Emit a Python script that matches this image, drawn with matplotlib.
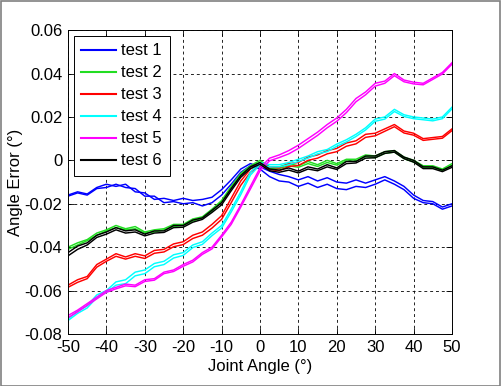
import numpy as np
import matplotlib.pyplot as plt
from matplotlib.patches import Rectangle

plt.rcParams['font.family'] = ['Liberation Sans', 'DejaVu Sans']
plt.rcParams['axes.unicode_minus'] = False

# joint angle sweep, degrees
angle = np.arange(-50, 50.1, 2.5)

# each test has a forward and a backward sweep (hysteresis)
t1_fwd = [-0.0160, -0.0145, -0.0155, -0.0125, -0.0110, -0.0120, -0.0110, -0.0145, -0.0150, -0.0180,
          -0.0175, -0.0185, -0.0175, -0.0185, -0.0180, -0.0170, -0.0135, -0.0090, -0.0040, -0.0015,
          -0.0030, -0.0050, -0.0065, -0.0075, -0.0090, -0.0075, -0.0095, -0.0080, -0.0100, -0.0105,
          -0.0090, -0.0105, -0.0090, -0.0075, -0.0095, -0.0120, -0.0160, -0.0185, -0.0190, -0.0215, -0.0200]
t1_bwd = [-0.0165, -0.0150, -0.0160, -0.0130, -0.0125, -0.0110, -0.0125, -0.0130, -0.0165, -0.0165,
          -0.0195, -0.0190, -0.0200, -0.0195, -0.0210, -0.0195, -0.0160, -0.0110, -0.0055, -0.0025,
          -0.0040, -0.0075, -0.0095, -0.0100, -0.0120, -0.0105, -0.0125, -0.0110, -0.0130, -0.0135,
          -0.0120, -0.0125, -0.0110, -0.0090, -0.0110, -0.0135, -0.0175, -0.0195, -0.0200, -0.0225, -0.0210]

t2_fwd = [-0.0400, -0.0380, -0.0365, -0.0335, -0.0320, -0.0300, -0.0315, -0.0305, -0.0330, -0.0320,
          -0.0315, -0.0295, -0.0295, -0.0270, -0.0260, -0.0225, -0.0185, -0.0120, -0.0060, -0.0025,
          0.0000, -0.0030, -0.0030, -0.0015, -0.0025, -0.0005, -0.0020, 0.0000, -0.0015, 0.0005,
          0.0005, 0.0025, 0.0020, 0.0040, 0.0045, 0.0015, 0.0000, -0.0025, -0.0025, -0.0040, -0.0015]
t2_bwd = [-0.0410, -0.0390, -0.0370, -0.0345, -0.0325, -0.0310, -0.0320, -0.0315, -0.0335, -0.0330,
          -0.0320, -0.0305, -0.0300, -0.0280, -0.0265, -0.0235, -0.0190, -0.0130, -0.0065, -0.0030,
          -0.0008, -0.0038, -0.0038, -0.0025, -0.0032, -0.0015, -0.0028, -0.0010, -0.0022, -0.0003,
          -0.0003, 0.0017, 0.0012, 0.0032, 0.0038, 0.0008, -0.0008, -0.0032, -0.0032, -0.0048, -0.0022]

t3_fwd = [-0.0575, -0.0550, -0.0535, -0.0480, -0.0455, -0.0430, -0.0445, -0.0430, -0.0440, -0.0415,
          -0.0410, -0.0385, -0.0375, -0.0345, -0.0330, -0.0295, -0.0255, -0.0175, -0.0095, -0.0040,
          -0.0015, -0.0030, -0.0035, -0.0015, -0.0010, 0.0015, 0.0025, 0.0045, 0.0055, 0.0080,
          0.0090, 0.0120, 0.0125, 0.0145, 0.0165, 0.0135, 0.0125, 0.0100, 0.0105, 0.0110, 0.0145]
t3_bwd = [-0.0585, -0.0562, -0.0545, -0.0492, -0.0465, -0.0442, -0.0455, -0.0442, -0.0452, -0.0428,
          -0.0422, -0.0398, -0.0388, -0.0360, -0.0345, -0.0312, -0.0272, -0.0195, -0.0115, -0.0055,
          -0.0025, -0.0042, -0.0048, -0.0028, -0.0024, 0.0000, 0.0010, 0.0030, 0.0040, 0.0065,
          0.0076, 0.0106, 0.0113, 0.0134, 0.0155, 0.0126, 0.0116, 0.0092, 0.0097, 0.0102, 0.0137]

t4_fwd = [-0.0730, -0.0695, -0.0670, -0.0620, -0.0600, -0.0560, -0.0550, -0.0515, -0.0505, -0.0475,
          -0.0465, -0.0435, -0.0425, -0.0390, -0.0375, -0.0335, -0.0300, -0.0225, -0.0145, -0.0055,
          -0.0010, -0.0020, -0.0020, -0.0010, 0.0005, 0.0020, 0.0040, 0.0050, 0.0075, 0.0095,
          0.0120, 0.0150, 0.0190, 0.0200, 0.0235, 0.0210, 0.0200, 0.0195, 0.0190, 0.0200, 0.0245]
t4_bwd = [-0.0738, -0.0705, -0.0680, -0.0632, -0.0608, -0.0575, -0.0568, -0.0532, -0.0522, -0.0490,
          -0.0480, -0.0450, -0.0438, -0.0402, -0.0387, -0.0347, -0.0312, -0.0238, -0.0158, -0.0068,
          -0.0020, -0.0030, -0.0030, -0.0020, -0.0005, 0.0010, 0.0030, 0.0040, 0.0065, 0.0085,
          0.0110, 0.0140, 0.0180, 0.0190, 0.0225, 0.0202, 0.0192, 0.0187, 0.0182, 0.0192, 0.0237]

t5_fwd = [-0.0715, -0.0690, -0.0660, -0.0630, -0.0600, -0.0585, -0.0570, -0.0575, -0.0550, -0.0545,
          -0.0515, -0.0505, -0.0480, -0.0460, -0.0425, -0.0400, -0.0345, -0.0285, -0.0205, -0.0120,
          -0.0035, 0.0010, 0.0025, 0.0045, 0.0070, 0.0100, 0.0130, 0.0165, 0.0195, 0.0235,
          0.0285, 0.0315, 0.0355, 0.0365, 0.0400, 0.0370, 0.0360, 0.0355, 0.0380, 0.0405, 0.0450]
t5_bwd = [-0.0725, -0.0698, -0.0668, -0.0638, -0.0608, -0.0592, -0.0578, -0.0582, -0.0558, -0.0552,
          -0.0522, -0.0512, -0.0488, -0.0468, -0.0433, -0.0408, -0.0353, -0.0295, -0.0215, -0.0132,
          -0.0048, -0.0002, 0.0013, 0.0030, 0.0055, 0.0085, 0.0115, 0.0150, 0.0180, 0.0220,
          0.0270, 0.0302, 0.0342, 0.0355, 0.0390, 0.0362, 0.0352, 0.0348, 0.0373, 0.0398, 0.0443]

t6_fwd = [-0.0425, -0.0395, -0.0380, -0.0345, -0.0330, -0.0310, -0.0325, -0.0320, -0.0340, -0.0325,
          -0.0325, -0.0300, -0.0300, -0.0275, -0.0265, -0.0230, -0.0195, -0.0130, -0.0070, -0.0030,
          -0.0010, -0.0040, -0.0045, -0.0035, -0.0050, -0.0030, -0.0040, -0.0020, -0.0035, -0.0005,
          -0.0005, 0.0020, 0.0020, 0.0040, 0.0045, 0.0015, 0.0000, -0.0030, -0.0030, -0.0045, -0.0025]
t6_bwd = [-0.0440, -0.0410, -0.0390, -0.0355, -0.0340, -0.0320, -0.0335, -0.0330, -0.0348, -0.0335,
          -0.0332, -0.0310, -0.0308, -0.0285, -0.0272, -0.0240, -0.0205, -0.0140, -0.0078, -0.0038,
          -0.0018, -0.0048, -0.0055, -0.0045, -0.0058, -0.0040, -0.0048, -0.0030, -0.0042, -0.0015,
          -0.0012, 0.0010, 0.0012, 0.0032, 0.0038, 0.0008, -0.0008, -0.0038, -0.0038, -0.0052, -0.0032]

labels = ['test 1', 'test 2', 'test 3', 'test 4', 'test 5', 'test 6']
colors = ['#0000ff', '#22dd22', '#ff0000', '#00ffff', '#ff00ff', '#000000']
fwd = [t1_fwd, t2_fwd, t3_fwd, t4_fwd, t5_fwd, t6_fwd]
bwd = [t1_bwd, t2_bwd, t3_bwd, t4_bwd, t5_bwd, t6_bwd]

xticks = [-50, -40, -30, -20, -10, 0, 10, 20, 30, 40, 50]
yticks = [-0.08, -0.06, -0.04, -0.02, 0, 0.02, 0.04, 0.06]
ytick_labels = ['-0.08', '-0.06', '-0.04', '-0.02', '0', '0.02', '0.04', '0.06']

fig = plt.figure(figsize=(5.01, 3.86), dpi=100)
ax = fig.add_axes([0.1357, 0.1347, 0.7665, 0.7873])

for lab, c, f, b in zip(labels, colors, fwd, bwd):
    ax.plot(angle, f, color=c, lw=1.05, label=lab)
    ax.plot(angle, b, color=c, lw=1.05)

ax.set_xlim(-50, 50)
ax.set_ylim(-0.08, 0.06)
ax.set_xticks(xticks)
ax.set_yticks(yticks)
ax.set_yticklabels(ytick_labels)
ax.tick_params(direction='in', top=True, right=True, labelsize=12, length=4, width=0.6)
ax.tick_params(axis='x', pad=4)
ax.tick_params(axis='y', pad=4)
ax.grid(True, color='black', ls=(0, (3.5, 3.5)), lw=0.6)
for s in ax.spines.values():
    s.set_linewidth(0.7)

ax.set_xlabel('Joint Angle (°)', fontsize=12, labelpad=3)
ax.set_ylabel('Angle Error (°)', fontsize=12, labelpad=1)

leg = ax.legend(loc='upper left', fontsize=12, handlelength=2.1, handletextpad=0.3,
                labelspacing=0.42, borderaxespad=0.35, fancybox=False, framealpha=1,
                borderpad=0.45)
leg.get_frame().set_edgecolor('black')
leg.get_frame().set_linewidth(0.7)
for line in leg.get_lines():
    line.set_linewidth(1.5)

# thin grey frame around the whole figure
fig.patches.append(Rectangle((0.001, 0.001), 0.997, 0.996, transform=fig.transFigure,
                             fill=False, edgecolor='#808080', lw=1.2))

fig.savefig('out.png', dpi=100)
